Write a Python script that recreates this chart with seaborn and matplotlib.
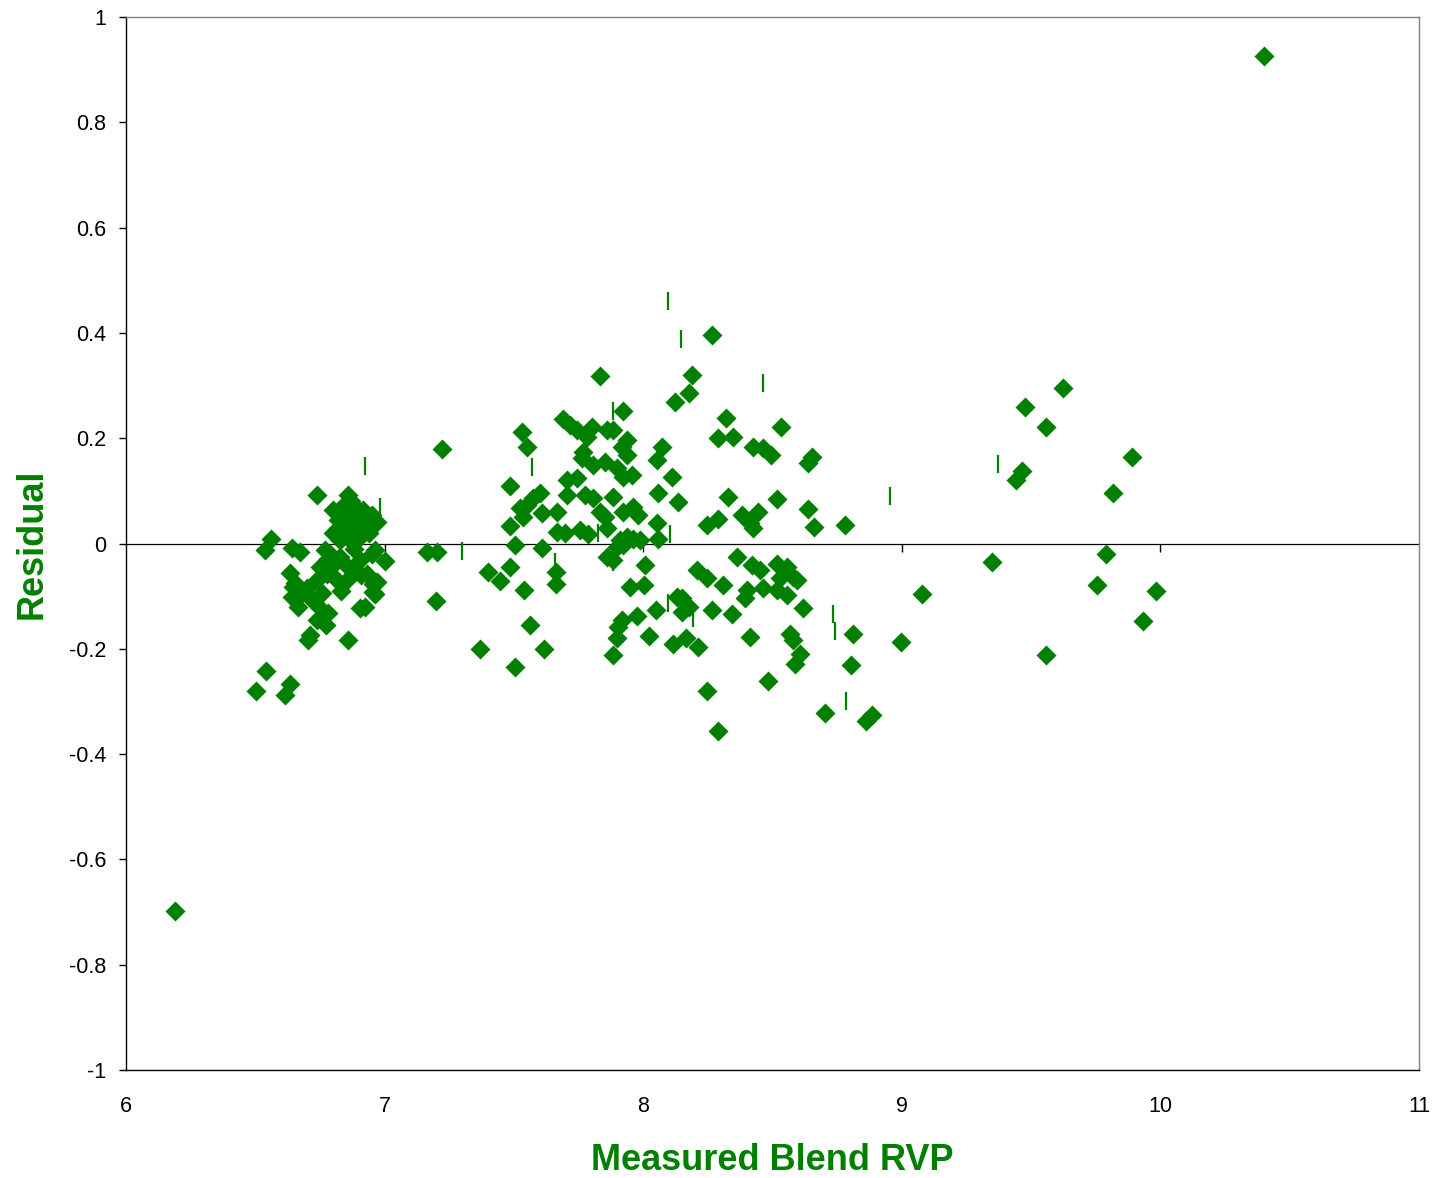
import matplotlib
matplotlib.use("Agg")
import matplotlib.pyplot as plt
import seaborn as sns
import pandas as pd

# ---------------- data (Measured Blend RVP, Residual) ----------------
left_points = [
    (6.190, -0.698),
    (6.503, -0.280), (6.541, -0.242), (6.615, -0.288), (6.634, -0.267),
    (6.538, -0.012), (6.561, 0.009), (6.641, -0.009), (6.673, -0.016),
    (6.634, -0.056), (6.653, -0.075), (6.647, -0.082), (6.641, -0.101), (6.667, -0.120),
    (6.679, -0.094), (6.699, -0.085), (6.718, -0.107), (6.737, -0.069), (6.757, -0.094),
    (6.750, -0.123), (6.781, -0.132), (6.737, -0.145), (6.773, -0.155),
    (6.705, -0.183), (6.712, -0.174), (6.860, -0.183),
    (6.737, 0.092),
    (6.860, 0.092), (6.800, 0.064), (6.834, 0.070), (6.879, 0.073), (6.918, 0.064),
    (6.950, 0.054), (6.969, 0.041),
    (6.866, 0.051), (6.840, 0.038), (6.885, 0.038), (6.924, 0.032), (6.800, 0.019),
    (6.905, 0.013), (6.827, 0.007), (6.866, 0.007), (6.770, -0.012), (6.789, -0.019),
    (6.827, -0.025), (6.905, -0.031), (6.950, -0.019), (6.963, -0.012), (6.750, -0.044),
    (6.776, -0.057), (6.815, -0.069), (6.853, -0.069), (6.885, -0.054), (6.931, -0.057),
    (6.956, -0.076), (6.963, -0.095), (6.969, -0.073), (6.956, -0.092),
    (6.905, -0.123), (6.925, -0.120), (7.002, -0.033),
    (6.820, 0.045), (6.850, 0.020), (6.880, -0.010), (6.860, -0.045), (6.800, -0.040),
    (6.830, -0.090), (6.780, -0.030), (6.900, 0.050), (6.940, 0.020), (6.870, 0.080),
    (6.910, -0.060),
]

middle_points = [
    (7.163, -0.016), (7.201, -0.017), (7.199, -0.110), (7.221, 0.179),
    (7.833, 0.319), (8.265, 0.396), (8.188, 0.320), (8.178, 0.285), (8.123, 0.269),
    (7.923, 0.252), (8.319, 0.239), (8.533, 0.222), (8.291, 0.200), (8.346, 0.203),
    (8.426, 0.184), (8.464, 0.181), (8.493, 0.168), (8.651, 0.165), (8.638, 0.153),
    (7.533, 0.212), (7.552, 0.184), (7.691, 0.236), (7.717, 0.225), (7.743, 0.216),
    (7.801, 0.222), (7.782, 0.203), (7.859, 0.216), (7.884, 0.216), (7.936, 0.197),
    (7.917, 0.184), (7.936, 0.168), (7.769, 0.174), (7.762, 0.162), (7.807, 0.149),
    (7.852, 0.155), (7.897, 0.143), (7.923, 0.127), (7.955, 0.130), (8.071, 0.184),
    (8.052, 0.159), (8.110, 0.127), (8.059, 0.095), (8.136, 0.079), (7.485, 0.109),
    (7.704, 0.121), (7.743, 0.124), (7.704, 0.092), (7.775, 0.092), (7.807, 0.086),
    (7.884, 0.089), (7.601, 0.095), (7.575, 0.086), (7.524, 0.067), (7.549, 0.073),
    (7.536, 0.051), (7.607, 0.057), (7.665, 0.060), (7.833, 0.060), (7.852, 0.051),
    (7.923, 0.060), (7.962, 0.070), (7.981, 0.054), (7.485, 0.033), (7.665, 0.022),
    (7.698, 0.019), (7.756, 0.026), (7.788, 0.018), (7.859, 0.029), (8.052, 0.038),
    (8.059, 0.008), (8.329, 0.089), (8.519, 0.085), (8.638, 0.065), (8.662, 0.031),
    (8.781, 0.036), (8.245, 0.036), (8.291, 0.046), (8.381, 0.054), (8.413, 0.038),
    (8.423, 0.029), (8.445, 0.060), (7.504, -0.003), (7.607, -0.009), (7.859, -0.025),
    (7.884, -0.031), (7.910, 0.007), (7.936, 0.013), (7.962, 0.008), (7.988, 0.007),
    (7.897, -0.006), (7.923, -0.003), (8.007, -0.040), (7.401, -0.054), (7.446, -0.071),
    (7.485, -0.044), (7.540, -0.088), (7.662, -0.055), (7.662, -0.077), (7.949, -0.082),
    (8.003, -0.079), (7.562, -0.155), (7.369, -0.201), (7.504, -0.235), (7.618, -0.201),
    (7.882, -0.212), (7.904, -0.158), (7.917, -0.145), (7.897, -0.180), (7.975, -0.138),
    (8.024, -0.176), (8.049, -0.126), (8.116, -0.190), (8.129, -0.101), (8.361, -0.025),
    (8.207, -0.050), (8.245, -0.066), (8.310, -0.079), (8.419, -0.041), (8.452, -0.050),
    (8.516, -0.038), (8.555, -0.044), (8.581, -0.063), (8.594, -0.069), (8.400, -0.088),
    (8.464, -0.085), (8.516, -0.088), (8.555, -0.098), (8.529, -0.066), (8.394, -0.104),
    (8.619, -0.123), (8.151, -0.104), (8.151, -0.130), (8.176, -0.120), (8.265, -0.126),
    (8.342, -0.133), (8.166, -0.180), (8.213, -0.196), (8.413, -0.178), (8.568, -0.171),
    (8.581, -0.183), (8.606, -0.209), (8.587, -0.228), (8.484, -0.262), (8.245, -0.280),
    (8.291, -0.356), (8.810, -0.172), (8.802, -0.231), (8.703, -0.322), (8.860, -0.337),
    (8.885, -0.325),
]

right_points = [
    (9.625, 0.295), (9.476, 0.260), (9.556, 0.222), (9.464, 0.138), (9.442, 0.121),
    (9.889, 0.165), (9.818, 0.095), (9.790, -0.019), (9.350, -0.036), (9.079, -0.096),
    (9.754, -0.079), (9.982, -0.090), (9.932, -0.148), (8.996, -0.187), (9.556, -0.212),
    (10.400, 0.925),
]

# second series drawn with short vertical dash markers
dash_points = [
    (6.925, 0.147), (6.982, 0.069), (7.569, 0.145), (7.882, 0.252), (7.827, 0.020),
    (8.102, 0.018), (7.298, -0.014), (7.659, -0.035), (7.884, -0.035), (8.097, -0.113),
    (8.094, 0.461), (8.145, 0.389), (8.464, 0.304), (8.194, -0.142), (8.735, -0.134),
    (8.742, -0.166), (8.783, -0.299), (9.373, 0.151), (8.954, 0.091),
]

x_ticks = [6, 7, 8, 9, 10, 11]
x_tick_labels = ["6", "7", "8", "9", "10", "11"]
y_ticks = [-1, -0.8, -0.6, -0.4, -0.2, 0, 0.2, 0.4, 0.6, 0.8, 1]
y_tick_labels = ["-1", "-0.8", "-0.6", "-0.4", "-0.2", "0", "0.2", "0.4", "0.6", "0.8", "1"]
x_label = "Measured Blend RVP"
y_label = "Residual"

# ---------------- styling ----------------
sns.set_style("white")
plt.rcParams['font.family'] = ['Liberation Sans', 'DejaVu Sans']
GREEN = "#008000"

W, H = 1438, 1178
fig = plt.figure(figsize=(W / 100, H / 100), dpi=100)
ax = fig.add_axes([126 / W, 1 - 1070 / H, 1293 / W, 1053 / H])

diamonds = pd.DataFrame(left_points + middle_points + right_points, columns=["rvp", "resid"])
dashes = pd.DataFrame(dash_points, columns=["rvp", "resid"])

sns.scatterplot(data=diamonds, x="rvp", y="resid", marker="D", s=104,
                color=GREEN, linewidth=0, ax=ax, zorder=3, legend=False)
sns.scatterplot(data=dashes, x="rvp", y="resid", marker="|", s=169,
                color=GREEN, linewidth=1.6, ax=ax, zorder=4, legend=False)

ax.set_xlim(6, 11)
ax.set_ylim(-1, 1)

ax.set_xticks(x_ticks)
ax.set_xticklabels(x_tick_labels)
ax.set_yticks(y_ticks)
ax.set_yticklabels(y_tick_labels)
ax.tick_params(axis="x", length=0, pad=19, labelsize=15.5, colors="black")
ax.tick_params(axis="y", direction="out", length=5, width=1, pad=9,
               labelsize=15.5, colors="black", left=True)

for side in ["left", "bottom"]:
    ax.spines[side].set_color("black")
    ax.spines[side].set_linewidth(1.0)
for side in ["top", "right"]:
    ax.spines[side].set_color("#808080")
    ax.spines[side].set_linewidth(1.0)

# horizontal axis crossing at zero, with ticks hanging below it
zero_axis = ax.secondary_xaxis(0, transform=ax.transData)
zero_axis.set_xticks([7, 8, 9, 10])
zero_axis.tick_params(axis="x", direction="out", length=5.5, width=1,
                      labelbottom=False, labeltop=False, colors="black")
zero_axis.spines["bottom"].set_color("black")
zero_axis.spines["bottom"].set_linewidth(0.9)
zero_axis.set_zorder(1)

ax.set_xlabel(x_label, fontsize=26, fontweight="bold", color=GREEN)
ax.set_ylabel(y_label, fontsize=26, fontweight="bold", color=GREEN, va="center")
ax.xaxis.set_label_coords(0.5, (1070 - 1143) / 1053)
ax.yaxis.set_label_coords((32 - 126) / 1293, 0.5)

fig.savefig("out.png", dpi=100)
